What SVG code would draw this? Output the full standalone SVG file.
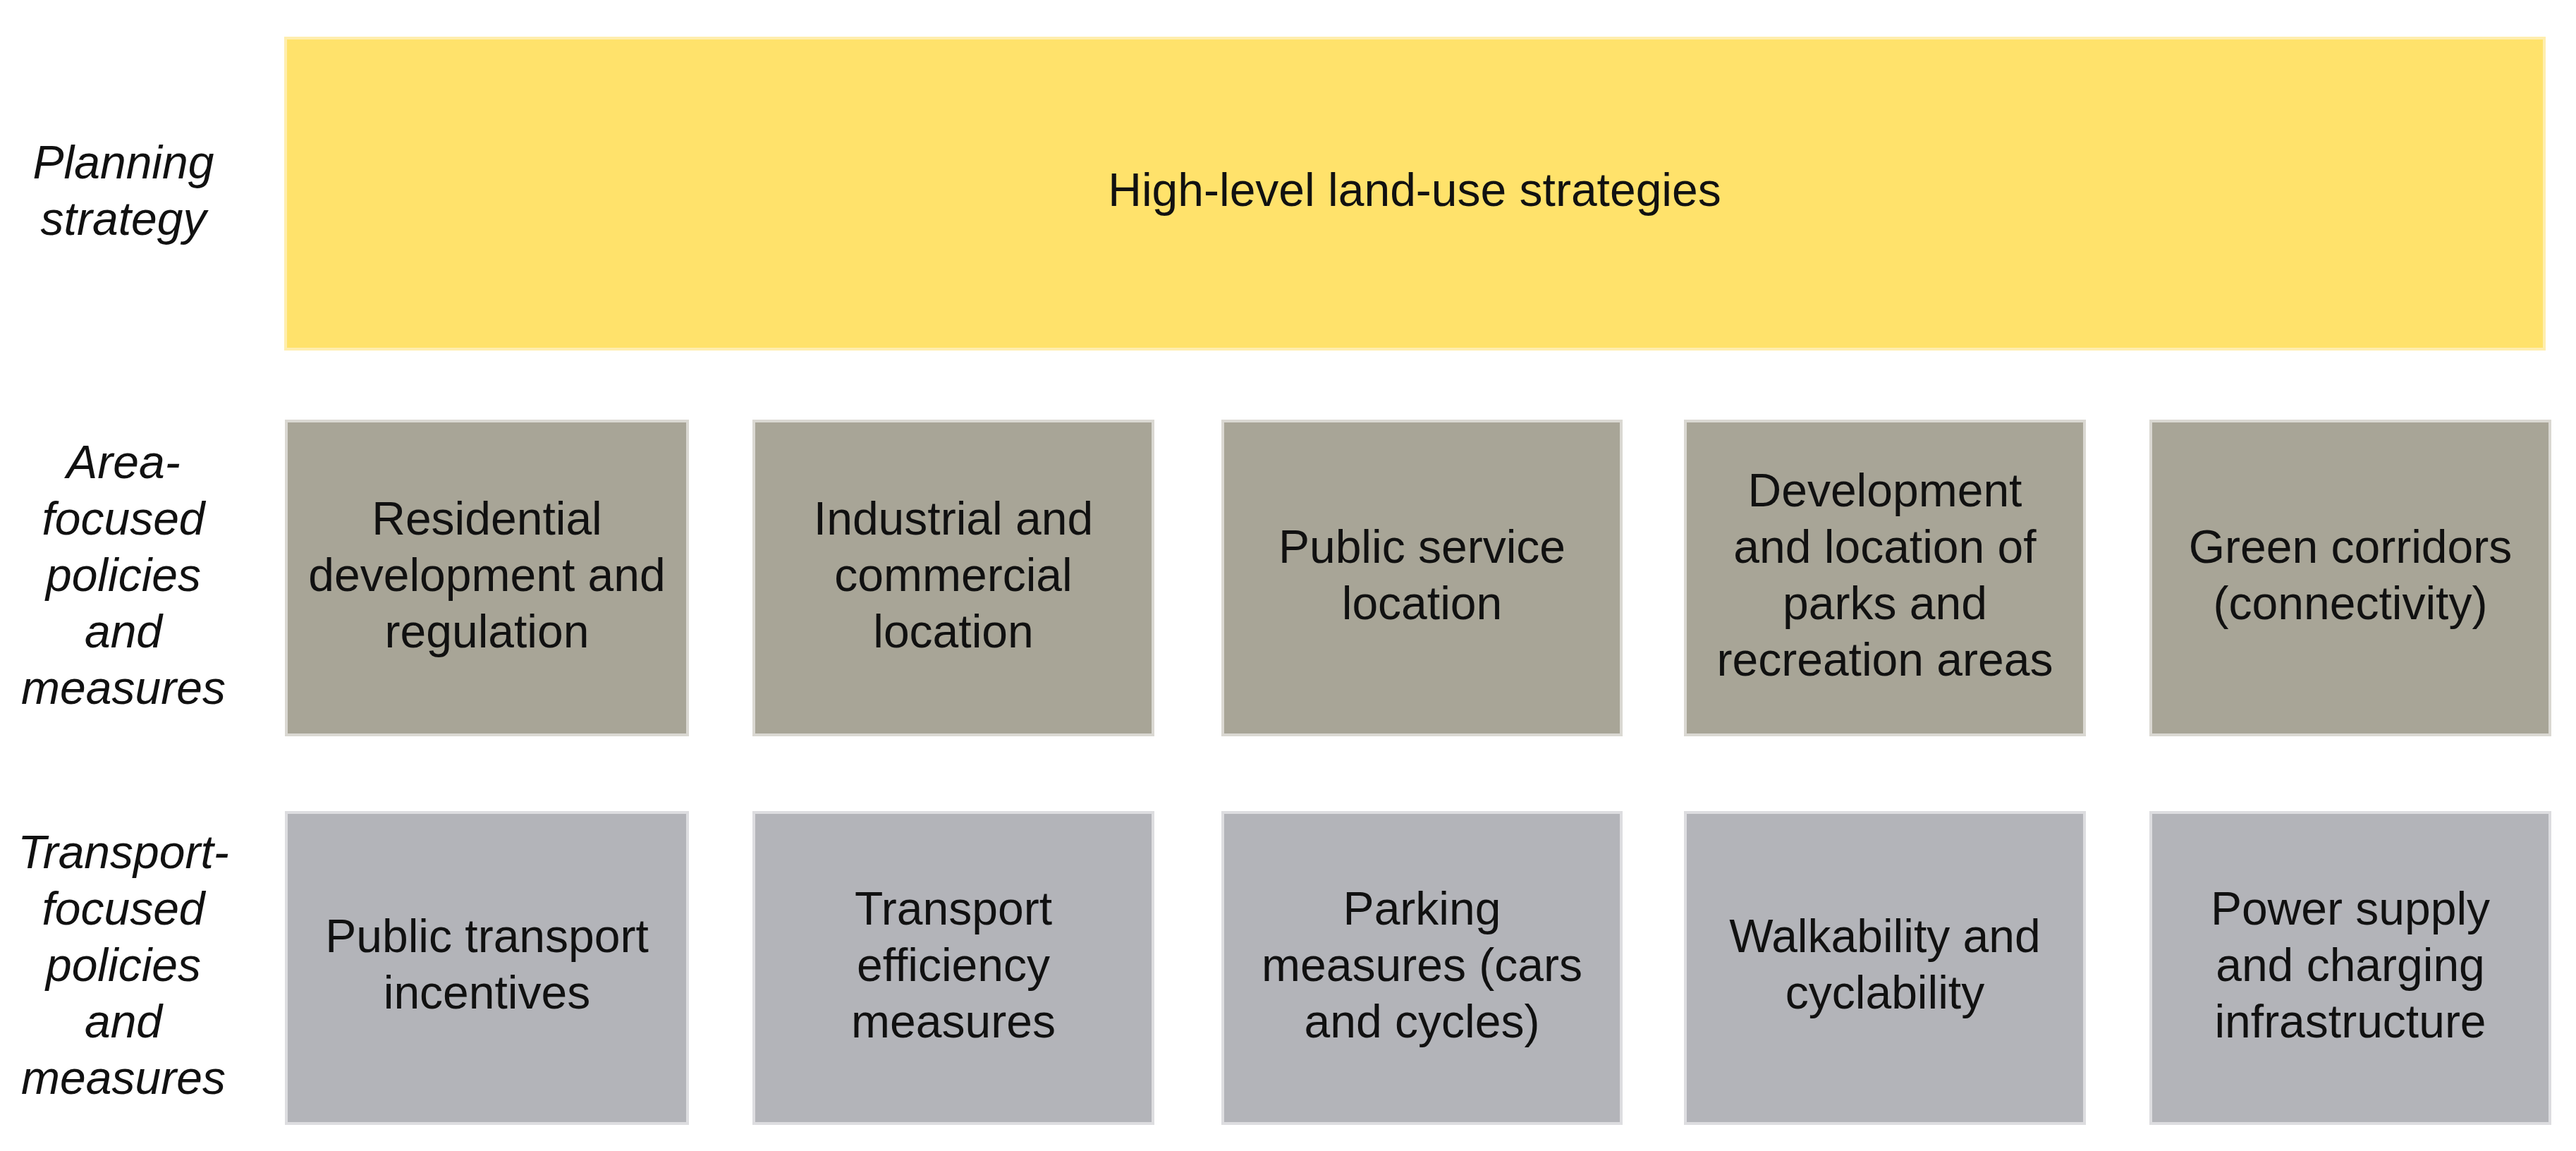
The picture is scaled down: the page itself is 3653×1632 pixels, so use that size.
<svg xmlns="http://www.w3.org/2000/svg" width="3653" height="1632" viewBox="0 0 3653 1632">
<style>
text{font-family:"Liberation Sans",Arial,sans-serif;font-size:66px;fill:#111;text-anchor:middle}
.lbl{font-style:italic}
.y{fill:#FFE26B;stroke:#FFEEAE;stroke-width:4}
.a{fill:#A8A597;stroke:#DAD8D2;stroke-width:4}
.t{fill:#B3B4B9;stroke:#DDDDE0;stroke-width:4}
</style>
<rect width="3653" height="1632" fill="#fff"/>
<g id="labels">
<g id="label-planning">
<text class="lbl" x="175" y="252.5">Planning</text>
<text class="lbl" x="175" y="332.5">strategy</text>
</g>
<g id="label-area">
<text class="lbl" x="175" y="677.5">Area-</text>
<text class="lbl" x="175" y="757.5">focused</text>
<text class="lbl" x="175" y="837.5">policies</text>
<text class="lbl" x="175" y="917.5">and</text>
<text class="lbl" x="175" y="997.5">measures</text>
</g>
<g id="label-transport">
<text class="lbl" x="175" y="1230.5">Transport-</text>
<text class="lbl" x="175" y="1310.5">focused</text>
<text class="lbl" x="175" y="1390.5">policies</text>
<text class="lbl" x="175" y="1470.5">and</text>
<text class="lbl" x="175" y="1550.5">measures</text>
</g>
</g>
<g id="strategy">
<rect class="y" x="405" y="54" width="3203" height="441"/>
<text x="2006" y="292">High-level land-use strategies</text>
</g>
<g id="area-1">
<rect class="a" x="406" y="597" width="569" height="445"/>
<text x="690.5" y="757.5">Residential</text>
<text x="690.5" y="837.5">development and</text>
<text x="690.5" y="917.5">regulation</text>
</g>
<g id="area-2">
<rect class="a" x="1069" y="597" width="566" height="445"/>
<text x="1352" y="757.5">Industrial and</text>
<text x="1352" y="837.5">commercial</text>
<text x="1352" y="917.5">location</text>
</g>
<g id="area-3">
<rect class="a" x="1734" y="597" width="565" height="445"/>
<text x="2016.5" y="797.5">Public service</text>
<text x="2016.5" y="877.5">location</text>
</g>
<g id="area-4">
<rect class="a" x="2390" y="597" width="566" height="445"/>
<text x="2673" y="717.5">Development</text>
<text x="2673" y="797.5">and location of</text>
<text x="2673" y="877.5">parks and</text>
<text x="2673" y="957.5">recreation areas</text>
</g>
<g id="area-5">
<rect class="a" x="3050" y="597" width="566" height="445"/>
<text x="3333" y="797.5">Green corridors</text>
<text x="3333" y="877.5">(connectivity)</text>
</g>
<g id="transport-1">
<rect class="t" x="406" y="1152" width="569" height="441"/>
<text x="690.5" y="1349.5">Public transport</text>
<text x="690.5" y="1429.5">incentives</text>
</g>
<g id="transport-2">
<rect class="t" x="1069" y="1152" width="566" height="441"/>
<text x="1352" y="1310.5">Transport</text>
<text x="1352" y="1390.5">efficiency</text>
<text x="1352" y="1470.5">measures</text>
</g>
<g id="transport-3">
<rect class="t" x="1734" y="1152" width="565" height="441"/>
<text x="2016.5" y="1310.5">Parking</text>
<text x="2016.5" y="1390.5">measures (cars</text>
<text x="2016.5" y="1470.5">and cycles)</text>
</g>
<g id="transport-4">
<rect class="t" x="2390" y="1152" width="566" height="441"/>
<text x="2673" y="1349.5">Walkability and</text>
<text x="2673" y="1429.5">cyclability</text>
</g>
<g id="transport-5">
<rect class="t" x="3050" y="1152" width="566" height="441"/>
<text x="3333" y="1310.5">Power supply</text>
<text x="3333" y="1390.5">and charging</text>
<text x="3333" y="1470.5">infrastructure</text>
</g>
<g id="connectors"></g>
</svg>
